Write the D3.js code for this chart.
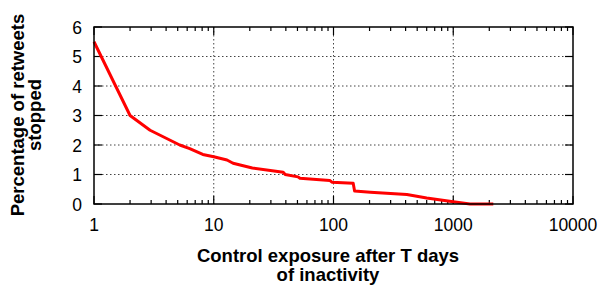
<!DOCTYPE html>
<html>
<head>
<meta charset="utf-8">
<script src="https://cdn.jsdelivr.net/npm/d3@7"></script>
<style>
  body { margin: 0; background: #fff; }
  svg text { font-family: "Liberation Sans", Arial, sans-serif; }
</style>
</head>
<body>
<svg id="drawing_region"></svg>
<script>
// days of inactivity (T) and percentage of retweets stopped
var days = [1, 2, 2.94, 5.2, 6.3, 8.1, 10, 12.9, 14.5, 21, 38, 39.5, 50.5, 52.5, 93, 97, 146, 150, 203, 410, 600, 1000, 1380, 2160];
var stopped = [5.5, 3.0, 2.5, 2.0, 1.88, 1.68, 1.6, 1.49, 1.38, 1.22, 1.08, 1.0, 0.92, 0.87, 0.8, 0.74, 0.7, 0.44, 0.4, 0.32, 0.2, 0.08, 0.0, 0.0];
var xTicks = [1, 10, 100, 1000, 10000];
var yTicks = [0, 1, 2, 3, 4, 5, 6];

var config = {
  parent: '#drawing_region',
  width: 603,
  height: 287,
  margin: {top: 27, right: 30, bottom: 83, left: 94}
};

var svg = d3.select(config.parent)
  .attr('width', config.width)
  .attr('height', config.height);

var inner_width = config.width - config.margin.left - config.margin.right;
var inner_height = config.height - config.margin.top - config.margin.bottom;

var chart = svg.append('g')
  .attr('transform', `translate(${config.margin.left}, ${config.margin.top})`);

var xscale = d3.scaleLog().domain([1, 10000]).range([0, inner_width]);
var yscale = d3.scaleLinear().domain([0, 6]).range([inner_height, 0]);

// minor ticks for the log axis
var minor = [];
for (var dec = 1; dec < 10000; dec *= 10) {
  for (var k = 2; k <= 9; k++) minor.push(dec * k);
}

// grid
chart.append('g').selectAll('line.gx')
  .data(xTicks.slice(1, -1))
  .join('line')
  .attr('x1', d => xscale(d)).attr('x2', d => xscale(d))
  .attr('y1', 0).attr('y2', inner_height)
  .attr('stroke', '#444').attr('stroke-width', 1).attr('stroke-dasharray', '1.5,2.5');
chart.append('g').selectAll('line.gy')
  .data(yTicks.slice(1, -1))
  .join('line')
  .attr('y1', d => yscale(d)).attr('y2', d => yscale(d))
  .attr('x1', 0).attr('x2', inner_width)
  .attr('stroke', '#444').attr('stroke-width', 1).attr('stroke-dasharray', '1.5,2.5');

// inward ticks on all four sides
var tickG = chart.append('g').attr('stroke', '#000').attr('stroke-width', 1.2);
[0, inner_height].forEach(function(y0) {
  var dir = y0 === 0 ? 1 : -1;
  tickG.selectAll(null).data(xTicks).join('line')
    .attr('x1', d => xscale(d)).attr('x2', d => xscale(d))
    .attr('y1', y0).attr('y2', y0 + dir * 8);
  tickG.selectAll(null).data(minor).join('line')
    .attr('x1', d => xscale(d)).attr('x2', d => xscale(d))
    .attr('y1', y0).attr('y2', y0 + dir * 4);
});
[0, inner_width].forEach(function(x0) {
  var dir = x0 === 0 ? 1 : -1;
  tickG.selectAll(null).data(yTicks).join('line')
    .attr('y1', d => yscale(d)).attr('y2', d => yscale(d))
    .attr('x1', x0).attr('x2', x0 + dir * 8);
});

// tick labels
chart.append('g').selectAll('text')
  .data(xTicks)
  .join('text')
  .attr('x', d => xscale(d))
  .attr('y', inner_height + 27)
  .attr('text-anchor', 'middle')
  .attr('font-size', 17.5)
  .text(d => d);
chart.append('g').selectAll('text')
  .data(yTicks)
  .join('text')
  .attr('x', -12)
  .attr('y', d => yscale(d) + 6.5)
  .attr('text-anchor', 'end')
  .attr('font-size', 17.5)
  .text(d => d);

// line
var line = d3.line()
  .x((d, i) => xscale(days[i]))
  .y(d => yscale(d));
chart.append('path')
  .datum(stopped)
  .attr('fill', 'none')
  .attr('stroke', '#ff0000')
  .attr('stroke-width', 3)
  .attr('stroke-linejoin', 'round')
  .attr('d', line);

// frame
chart.append('rect')
  .attr('width', inner_width).attr('height', inner_height)
  .attr('fill', 'none').attr('stroke', '#000').attr('stroke-width', 1.5);

// axis titles
var xt = svg.append('text')
  .attr('text-anchor', 'middle')
  .attr('font-size', 18.5)
  .attr('font-weight', 'bold');
xt.append('tspan').attr('x', 328).attr('y', 262).text('Control exposure after T days');
xt.append('tspan').attr('x', 328).attr('y', 281).text('of inactivity');

var yt = svg.append('text')
  .attr('transform', 'translate(0,115) rotate(-90)')
  .attr('text-anchor', 'middle')
  .attr('font-size', 18.5)
  .attr('font-weight', 'bold');
yt.append('tspan').attr('x', 0).attr('y', 24).text('Percentage of retweets');
yt.append('tspan').attr('x', 0).attr('y', 41).text('stopped');
</script>
</body>
</html>
